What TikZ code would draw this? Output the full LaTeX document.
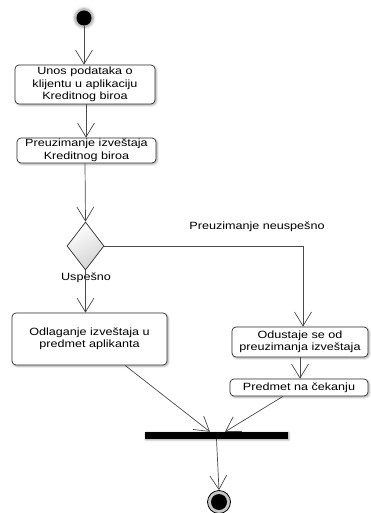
\documentclass[tikz,border=0pt]{standalone}
\usepackage{fontspec}
\setmainfont{Liberation Sans}[FakeStretch=1.2]
\usetikzlibrary{arrows.meta,shapes.geometric,shadows.blur,calc}
\definecolor{edgegray}{HTML}{4A4A4A}
\definecolor{boxline}{HTML}{2E2E2E}
\begin{document}
\begin{tikzpicture}[x=1pt,y=-1pt,
  font=\fontsize{10.5}{12.5}\selectfont,
  action/.style={draw=boxline, line width=0.7pt, rounded corners=4pt, fill=white,
    inner sep=0pt, align=center,
    blur shadow={shadow xshift=1.2pt, shadow yshift=-1.2pt, shadow blur steps=6, shadow opacity=35}},
  flow/.style={draw=edgegray, line width=0.7pt,
    -{Straight Barb[length=14pt, width=17pt, line width=0.7pt]}},
  plain/.style={draw=edgegray, line width=0.7pt},
  lbl/.style={inner sep=0pt}]
\useasboundingbox (0,0) rectangle (370,513);

% initial state
\node (start) [circle, fill=black, minimum size=15pt, inner sep=0pt,
  blur shadow={shadow xshift=0pt, shadow yshift=0pt, shadow scale=1.25, shadow blur steps=5, shadow opacity=40}] at (84,18) {};

% activities
\node (b1) [action, minimum width=140pt, minimum height=39pt] at (85,84.5)
  {Unos podataka o\\klijentu u aplikaciju\\Kreditnog biroa};
\node (b2) [action, minimum width=139pt, minimum height=25pt] at (86.5,150.5)
  {Preuzimanje izveštaja\\Kreditnog biroa};

% decision
\node (dec) [diamond, draw=boxline, line width=0.7pt, inner sep=0pt,
  minimum width=37pt, minimum height=48pt,
  top color=white, bottom color=gray!35, shading angle=30] at (85.5,246) {};

\node (b3) [action, minimum width=155pt, minimum height=52pt] at (89.5,339)
  {Odlaganje izveštaja u\\predmet aplikanta};
\node (b4) [action, minimum width=136pt, minimum height=30pt] at (300,342)
  {Odustaje se od\\preuzimanja izveštaja};
\node (b5) [action, minimum width=138pt, minimum height=17pt] at (299,387.5)
  {Predmet na čekanju};

% join bar
\node (bar) [rectangle, fill=black, minimum width=143pt, minimum height=7pt, inner sep=0pt,
  blur shadow={shadow xshift=0.8pt, shadow yshift=-0.8pt, shadow blur steps=5, shadow opacity=40}] at (216.5,435.5) {};

% final state
\node (endo) [circle, draw=black, line width=0.8pt, fill=gray!45, minimum size=23pt, inner sep=0pt] at (219,502) {};
\node (endi) [circle, fill=black, minimum size=16pt, inner sep=0pt] at (219,502) {};

% guards
\node (ok) [lbl] at (86,278) {Uspešno};
\node (fail) [lbl] at (257,227) {Preuzimanje neuspešno};
\coordinate (turn) at (303,246);

% transitions
\draw[flow] (start) -- (start |- b1.north);
\draw[flow] ([xshift=1pt]b1.south) -- ([xshift=-0.5pt]b2.north);
\draw[flow] ([xshift=-1.5pt]b2.south) -- (dec.north);
\draw[flow] (dec.south) -- (dec.south |- b3.north);
\draw[flow] (dec.east) -- (turn) -- (turn |- b4.north);
\draw[flow] (b4.south) -- (b4.south |- b5.north);
\draw[flow] ([xshift=35.5pt]b3.south) -- ([xshift=-6.5pt]bar.north);
\draw[flow] ([xshift=-16pt]b5.south) -- ([xshift=8.5pt]bar.north);
\draw[flow] (bar.south) -- (endo.north);
\end{tikzpicture}
\end{document}
